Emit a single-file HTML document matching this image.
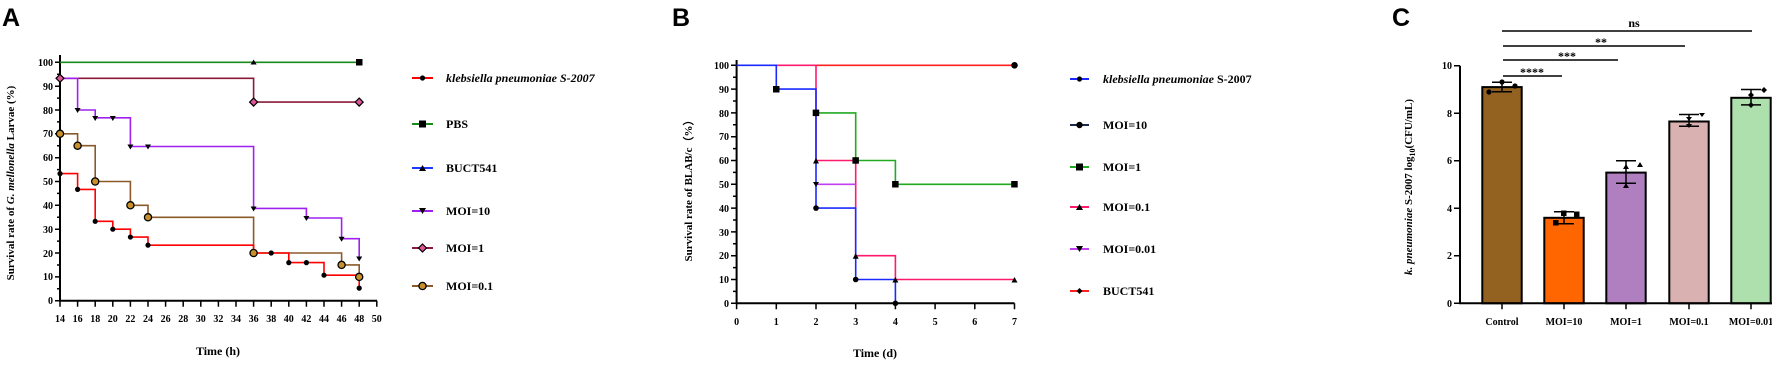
<!DOCTYPE html>
<html><head><meta charset="utf-8"><style>
html,body{margin:0;padding:0;background:#fff;}
svg{display:block;font-family:"Liberation Serif",serif;font-weight:bold;}
.ax{stroke:#000;stroke-width:2;fill:none}
.t{font-size:10px;}
</style></head><body>
<svg width="1772" height="366" viewBox="0 0 1772 366" xmlns="http://www.w3.org/2000/svg">
<defs>
<marker id="n"/>
</defs>
<!-- Panel letters -->
<text x="2" y="26" font-family="Liberation Sans" font-size="25" font-weight="bold">A</text>
<text x="672" y="26" font-family="Liberation Sans" font-size="25" font-weight="bold">B</text>
<text x="1392" y="26" font-family="Liberation Sans" font-size="25" font-weight="bold">C</text>

<!-- ===== Panel A ===== -->
<g>
<path class="ax" d="M60,55 V300.7 H377"/>
<g stroke="#000" stroke-width="1.5">
<path d="M55,62.3H60M55,86.2H60M55,110H60M55,133.8H60M55,157.7H60M55,181.5H60M55,205.3H60M55,229.2H60M55,253H60M55,276.9H60M55,300.7H60"/>
<path d="M57,74.3H60M57,98.1H60M57,121.9H60M57,145.8H60M57,169.6H60M57,193.4H60M57,217.3H60M57,241.1H60M57,265H60M57,288.8H60"/>
<path d="M60,300.7v6M77.6,300.7v6M95.2,300.7v6M112.8,300.7v6M130.4,300.7v6M148,300.7v6M165.6,300.7v6M183.2,300.7v6M200.8,300.7v6M218.4,300.7v6M236,300.7v6M253.6,300.7v6M271.2,300.7v6M288.8,300.7v6M306.4,300.7v6M324,300.7v6M341.6,300.7v6M359.2,300.7v6M376.8,300.7v6"/>
</g>
<g class="t" text-anchor="end">
<text x="53" y="66">100</text><text x="53" y="90">90</text><text x="53" y="114">80</text><text x="53" y="137">70</text><text x="53" y="161">60</text><text x="53" y="185">50</text><text x="53" y="209">40</text><text x="53" y="233">30</text><text x="53" y="257">20</text><text x="53" y="280">10</text><text x="53" y="304">0</text>
</g>
<g class="t" text-anchor="middle">
<text x="60" y="322">14</text><text x="77.6" y="322">16</text><text x="95.2" y="322">18</text><text x="112.8" y="322">20</text><text x="130.4" y="322">22</text><text x="148" y="322">24</text><text x="165.6" y="322">26</text><text x="183.2" y="322">28</text><text x="200.8" y="322">30</text><text x="218.4" y="322">32</text><text x="236" y="322">34</text><text x="253.6" y="322">36</text><text x="271.2" y="322">38</text><text x="288.8" y="322">40</text><text x="306.4" y="322">42</text><text x="324" y="322">44</text><text x="341.6" y="322">46</text><text x="359.2" y="322">48</text><text x="376.8" y="322">50</text>
</g>
<text x="218" y="355" font-size="12" text-anchor="middle">Time (h)</text>
<text transform="translate(14,183) rotate(-90)" font-size="11" text-anchor="middle">Survival rate of <tspan font-style="italic">G. mellonella</tspan> Larvae (%)</text>
<!-- series -->
<path d="M60,62.3H359.2" stroke="#1a8a1a" stroke-width="1.6" fill="none"/>
<path d="M60,78.3H253.6V102.1H359.2" stroke="#8b1a3a" stroke-width="1.6" fill="none"/>
<path d="M60,78.3H77.6V110H95.2V117.8H130.4V146.5H253.6V208.4H306.4V218H341.6V238.7H359.2V258.5" stroke="#a020f0" stroke-width="1.6" fill="none"/>
<path d="M60,133.8H77.6V145.7H95.2V181.5H130.4V205.3H148V217.3H253.6V253H341.6V264.9H359.2V276.9" stroke="#8b5a2b" stroke-width="1.6" fill="none"/>
<path d="M60,173.6H77.6V189.4H95.2V221.3H112.8V229.2H130.4V237.05H148V245.15H253.6V253H288.8V262.6H324V275.2H359.2V288.1" stroke="#ff0000" stroke-width="1.6" fill="none"/>
<g fill="#000">
<circle cx="60" cy="173.6" r="2.6"/><circle cx="77.6" cy="189.4" r="2.6"/><circle cx="95.2" cy="221.3" r="2.6"/><circle cx="112.8" cy="229.2" r="2.6"/><circle cx="130.4" cy="237.05" r="2.6"/><circle cx="148" cy="245.15" r="2.6"/><circle cx="271.2" cy="253" r="2.6"/><circle cx="288.8" cy="262.6" r="2.6"/><circle cx="306.4" cy="262.6" r="2.6"/><circle cx="324" cy="275.2" r="2.6"/><circle cx="359.2" cy="288.1" r="2.6"/>
<path d="M57,77h6l-3,5zM74.6,108h6l-3,5zM92.2,116h6l-3,5zM109.8,116h6l-3,5zM127.4,144.5h6l-3,5zM145,144.5h6l-3,5zM250.6,206.5h6l-3,5zM303.4,216h6l-3,5zM338.6,236.7h6l-3,5zM356.2,256.5h6l-3,5z"/>
<path d="M250.6,64.5h6l-3,-5z"/><rect x="356" y="59" width="6.5" height="6.5"/>
</g>
<g fill="#e0559a" stroke="#000" stroke-width="1.2">
<path d="M60,74.3l4,4l-4,4l-4,-4z M253.6,98.1l4,4l-4,4l-4,-4z M359.2,98.1l4,4l-4,4l-4,-4z"/>
</g>
<g fill="#c8902a" stroke="#000" stroke-width="1.3">
<circle cx="60" cy="133.8" r="3.6"/><circle cx="77.6" cy="145.7" r="3.6"/><circle cx="95.2" cy="181.5" r="3.6"/><circle cx="130.4" cy="205.3" r="3.6"/><circle cx="148" cy="217.3" r="3.6"/><circle cx="253.6" cy="253" r="3.6"/><circle cx="341.6" cy="264.9" r="3.6"/><circle cx="359.2" cy="276.9" r="3.6"/>
</g>
<!-- legend A -->
<g stroke-width="2">
<path d="M412,78H433" stroke="#ff0000"/><circle cx="422.5" cy="78" r="2.6"/>
<path d="M412,124H433" stroke="#1a8a1a"/><rect x="419" y="120.5" width="7" height="7"/>
<path d="M412,168H433" stroke="#1a3aff"/><path d="M419,171h7l-3.5,-6z"/>
<path d="M412,211H433" stroke="#a020f0"/><path d="M419,208h7l-3.5,6z"/>
<path d="M412,248H433" stroke="#8b1a3a"/><path d="M422.5,244l4,4l-4,4l-4,-4z" fill="#e0559a" stroke="#000" stroke-width="1.2"/>
<path d="M412,286H433" stroke="#8b5a2b"/><circle cx="422.5" cy="286" r="3.6" fill="#c8902a" stroke="#000" stroke-width="1.3"/>
</g>
<g font-size="12">
<text x="446" y="82" font-style="italic">klebsiella pneumoniae S-2007</text>
<text x="446" y="128">PBS</text><text x="446" y="172">BUCT541</text><text x="446" y="215">MOI=10</text><text x="446" y="252">MOI=1</text><text x="446" y="290">MOI=0.1</text>
</g>
</g>

<!-- ===== Panel B ===== -->
<g>
<path class="ax" d="M736.6,60 V303.3 H1014.5"/>
<g stroke="#000" stroke-width="1.5">
<path d="M731,65.3h5.6M731,89.1h5.6M731,112.9h5.6M731,136.7h5.6M731,160.5h5.6M731,184.3h5.6M731,208.1h5.6M731,231.9h5.6M731,255.7h5.6M731,279.5h5.6M731,303.3h5.6"/>
<path d="M733,77.2h3.6M733,101h3.6M733,124.8h3.6M733,148.6h3.6M733,172.4h3.6M733,196.2h3.6M733,220h3.6M733,243.8h3.6M733,267.6h3.6M733,291.4h3.6"/>
<path d="M736.6,303.3v6M776.3,303.3v6M816,303.3v6M855.7,303.3v6M895.4,303.3v6M935.1,303.3v6M974.8,303.3v6M1014.5,303.3v6"/>
</g>
<g class="t" text-anchor="end">
<text x="729" y="69">100</text><text x="729" y="93">90</text><text x="729" y="117">80</text><text x="729" y="140">70</text><text x="729" y="164">60</text><text x="729" y="188">50</text><text x="729" y="212">40</text><text x="729" y="236">30</text><text x="729" y="259">20</text><text x="729" y="283">10</text><text x="729" y="307">0</text>
</g>
<g class="t" text-anchor="middle">
<text x="736.6" y="325">0</text><text x="776.3" y="325">1</text><text x="816" y="325">2</text><text x="855.7" y="325">3</text><text x="895.4" y="325">4</text><text x="935.1" y="325">5</text><text x="974.8" y="325">6</text><text x="1014.5" y="325">7</text>
</g>
<text x="875" y="357" font-size="12" text-anchor="middle">Time (d)</text>
<text transform="translate(692,188) rotate(-90)" font-size="11" text-anchor="middle">Survival rate of BLAB/c（%）</text>
<path d="M816,65.3H1014.5" stroke="#ff2020" stroke-width="1.6" fill="none"/>
<path d="M776.3,65.3H816V160.5H855.7V255.7H895.4V279.5H1014.5" stroke="#ff1a6e" stroke-width="1.6" fill="none"/>
<path d="M816,184.3H855.7" stroke="#c040f0" stroke-width="1.6" fill="none"/>
<path d="M816,112.9H855.7V160.5H895.4V184.3H1014.5" stroke="#22aa22" stroke-width="1.6" fill="none"/>
<path d="M736.6,65.3H776.3V89.1H816V208.1H855.7V279.5H895.4V303.3" stroke="#1a2aff" stroke-width="1.6" fill="none"/>
<g fill="#000">
<circle cx="1014.5" cy="65.3" r="3.3"/>
<path d="M813,163.5h6l-3,-5.5zM852.7,258.7h6l-3,-5.5zM892.4,282.5h6l-3,-5.5zM1011.5,282.5h6l-3,-5.5z"/>
<path d="M813,182h6l-3,5z"/>
<rect x="773" y="86" width="6.5" height="6.5"/><rect x="812.7" y="109.6" width="6.5" height="6.5"/><rect x="852.4" y="157.2" width="6.5" height="6.5"/><rect x="892.1" y="181" width="6.5" height="6.5"/><rect x="1011.2" y="181" width="6.5" height="6.5"/>
<circle cx="816" cy="208.1" r="2.8"/><circle cx="855.7" cy="279.5" r="2.8"/><circle cx="895.4" cy="303.3" r="2.8"/>
</g>
<g stroke-width="2">
<path d="M1070,79H1089" stroke="#1a2aff"/><circle cx="1079.5" cy="79" r="2.6"/>
<path d="M1070,125H1089" stroke="#1a2a4a"/><circle cx="1079.5" cy="125" r="3.2"/>
<path d="M1070,167H1089" stroke="#22aa22"/><rect x="1076" y="163.5" width="7" height="7"/>
<path d="M1070,207H1089" stroke="#ff1a6e"/><path d="M1076,210h7l-3.5,-6z"/>
<path d="M1070,249H1089" stroke="#c040f0"/><path d="M1076,246h7l-3.5,6z"/>
<path d="M1070,291H1089" stroke="#ff2020"/><path d="M1079.5,288l3,3l-3,3l-3,-3z"/>
</g>
<g font-size="12">
<text x="1103" y="83"><tspan font-style="italic">klebsiella pneumoniae</tspan> S-2007</text>
<text x="1103" y="129">MOI=10</text><text x="1103" y="171">MOI=1</text><text x="1103" y="211">MOI=0.1</text><text x="1103" y="253">MOI=0.01</text><text x="1103" y="295">BUCT541</text>
</g>
</g>

<!-- ===== Panel C ===== -->
<g>
<g stroke="#000" stroke-width="2">
<rect x="1482.3" y="87.1" width="39.4" height="216.2" fill="#936120"/>
<rect x="1544.3" y="217.8" width="39.4" height="85.5" fill="#ff6600"/>
<rect x="1606.3" y="172.6" width="39.4" height="130.7" fill="#b07fc0"/>
<rect x="1669.3" y="121.5" width="39.4" height="181.8" fill="#d9b1b1"/>
<rect x="1731.3" y="97.8" width="39.4" height="205.5" fill="#ade0ad"/>
</g>
<path class="ax" d="M1460,65.7 V303.3 H1772"/>
<g stroke="#000" stroke-width="1.5">
<path d="M1454,65.7h6M1454,113.2h6M1454,160.7h6M1454,208.3h6M1454,255.8h6M1454,303.3h6"/>
<path d="M1502,303.3v6M1564,303.3v6M1626,303.3v6M1689,303.3v6M1751,303.3v6"/>
<!-- error bars -->
<path d="M1492,82.3h20M1492,91.8h20M1502,82.3v9.5"/>
<path d="M1554,211.8h20M1554,223.7h20M1564,211.8v11.9"/>
<path d="M1616,160.7h20M1616,183.3h20M1626,160.7v22.6"/>
<path d="M1679,114.5h20M1679,126.3h20M1689,114.5v11.8"/>
<path d="M1741,89.5h20M1741,104.9h20M1751,89.5v15.4"/>
<!-- brackets -->
<path d="M1502,31H1752M1503,46H1685M1503,60H1618M1503,76H1562"/>
</g>
<g fill="#000">
<circle cx="1502" cy="82" r="2.6"/><circle cx="1489" cy="92" r="2.6"/><circle cx="1515" cy="86" r="2.6"/>
<rect x="1561" y="210.5" width="5.5" height="5.5"/><rect x="1553" y="220" width="5.5" height="5.5"/><rect x="1574" y="211.5" width="5.5" height="5.5"/>
<path d="M1623,169h6l-3,-5zM1623,188h6l-3,-5zM1637,167h6l-3,-5z"/>
<path d="M1686,117h6l-3,4zM1686,124h6l-3,4zM1699,113h6l-3,4z"/>
<path d="M1751,92l3,3l-3,3l-3,-3zM1751,102l3,3l-3,3l-3,-3zM1764,87l3,3l-3,3l-3,-3z"/>
</g>
<g font-size="12" text-anchor="middle">
<text x="1634" y="27">ns</text>
<text x="1601" y="46">**</text>
<text x="1567" y="60">***</text>
<text x="1532" y="76">****</text>
</g>
<g class="t" text-anchor="end">
<text x="1452" y="69">10</text><text x="1452" y="117">8</text><text x="1452" y="164">6</text><text x="1452" y="212">4</text><text x="1452" y="259">2</text><text x="1452" y="307">0</text>
</g>
<g class="t" text-anchor="middle">
<text x="1502" y="325">Control</text><text x="1564" y="325">MOI=10</text><text x="1626" y="325">MOI=1</text><text x="1689" y="325">MOI=0.1</text><text x="1751" y="325">MOI=0.01</text>
</g>
<text transform="translate(1412,187) rotate(-90)" font-size="11" text-anchor="middle"><tspan font-style="italic">k. pneumoniae</tspan> S-2007 log<tspan font-size="8" dy="3">10</tspan><tspan dy="-3">(CFU/mL)</tspan></text>
</g>
</svg>
</body></html>
